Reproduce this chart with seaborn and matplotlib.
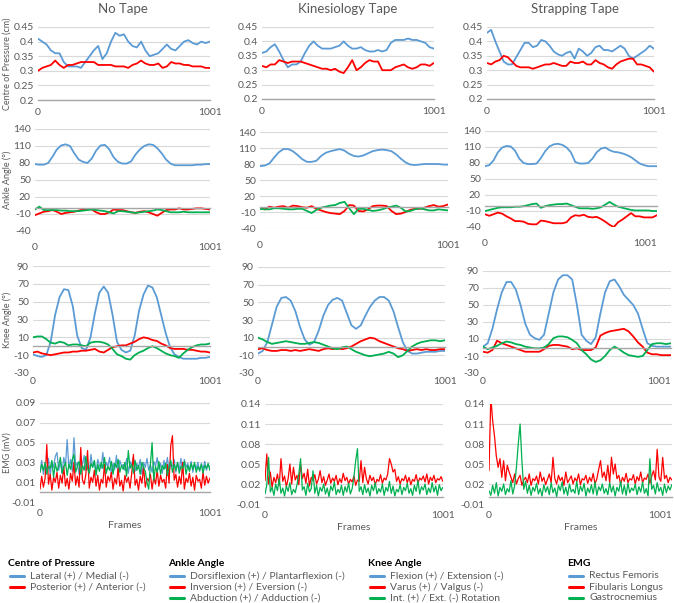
import numpy as np
import seaborn as sns
import matplotlib.pyplot as plt
from matplotlib.lines import Line2D

# ---- data ----
conditions = ['No Tape', 'Kinesiology Tape', 'Strapping Tape']
frames_25 = list(range(0, 1001, 25))

# centre of pressure (cm): lateral/medial (blue), posterior/anterior (red)
cop_lat = {
    'No Tape': [0.41, 0.40, 0.39, 0.37, 0.36, 0.36, 0.33, 0.315, 0.315, 0.315, 0.31, 0.33, 0.35, 0.37,
                0.385, 0.34, 0.36, 0.40, 0.43, 0.42, 0.425, 0.40, 0.385, 0.38, 0.40, 0.37, 0.35, 0.355,
                0.36, 0.375, 0.39, 0.375, 0.37, 0.385, 0.40, 0.405, 0.395, 0.39, 0.40, 0.395, 0.40],
    'Kinesiology Tape': [0.36, 0.365, 0.38, 0.39, 0.365, 0.335, 0.31, 0.32, 0.32, 0.33, 0.36, 0.385, 0.40,
                         0.385, 0.375, 0.375, 0.375, 0.38, 0.385, 0.40, 0.385, 0.375, 0.375, 0.38, 0.37,
                         0.365, 0.365, 0.37, 0.365, 0.37, 0.395, 0.405, 0.405, 0.405, 0.41, 0.405, 0.405,
                         0.40, 0.395, 0.38, 0.375],
    'Strapping Tape': [0.43, 0.44, 0.40, 0.365, 0.33, 0.32, 0.32, 0.345, 0.37, 0.395, 0.395, 0.38, 0.385,
                       0.405, 0.40, 0.385, 0.365, 0.355, 0.35, 0.36, 0.365, 0.34, 0.375, 0.365, 0.35, 0.36,
                       0.38, 0.385, 0.37, 0.37, 0.365, 0.375, 0.385, 0.375, 0.35, 0.34, 0.35, 0.36, 0.37,
                       0.385, 0.375],
}
cop_post = {
    'No Tape': [0.30, 0.31, 0.315, 0.32, 0.335, 0.32, 0.31, 0.32, 0.32, 0.325, 0.33, 0.33, 0.33, 0.33,
                0.32, 0.32, 0.32, 0.32, 0.315, 0.315, 0.315, 0.31, 0.32, 0.325, 0.335, 0.325, 0.32, 0.32,
                0.325, 0.31, 0.315, 0.33, 0.325, 0.325, 0.32, 0.32, 0.315, 0.315, 0.315, 0.31, 0.31],
    'Kinesiology Tape': [0.315, 0.31, 0.32, 0.32, 0.335, 0.33, 0.325, 0.33, 0.33, 0.33, 0.325, 0.32, 0.315,
                         0.31, 0.305, 0.305, 0.30, 0.305, 0.295, 0.29, 0.31, 0.335, 0.30, 0.31, 0.325,
                         0.335, 0.33, 0.33, 0.30, 0.30, 0.30, 0.31, 0.315, 0.32, 0.31, 0.305, 0.31, 0.32,
                         0.32, 0.315, 0.325],
    'Strapping Tape': [0.325, 0.32, 0.33, 0.335, 0.35, 0.345, 0.33, 0.315, 0.31, 0.31, 0.31, 0.305, 0.31,
                       0.315, 0.32, 0.32, 0.325, 0.32, 0.315, 0.315, 0.33, 0.325, 0.325, 0.33, 0.32, 0.32,
                       0.335, 0.325, 0.32, 0.31, 0.305, 0.32, 0.33, 0.335, 0.34, 0.34, 0.32, 0.32, 0.315,
                       0.31, 0.295],
}

# ankle angle (deg)
ankle_dorsi = {
    'No Tape': [78, 77, 77, 80, 91, 104, 111, 113, 110, 97, 86, 82, 80, 88, 102, 111, 112, 104, 90, 82, 79,
                79, 83, 95, 104, 110, 113, 112, 106, 97, 86, 79, 76, 76, 76, 76, 76, 77, 77, 78, 78],
    'Kinesiology Tape': [76, 77, 81, 92, 102, 108, 108, 104, 97, 89, 84, 84, 86, 95, 101, 104, 106, 108, 105,
                         99, 95, 94, 96, 100, 104, 106, 107, 106, 104, 98, 90, 83, 79, 78, 79, 80, 80, 80,
                         80, 79, 79],
    'Strapping Tape': [74, 76, 85, 100, 109, 112, 111, 103, 88, 80, 78, 78, 79, 89, 102, 111, 115, 116, 114,
                       109, 100, 82, 79, 79, 80, 88, 100, 107, 109, 104, 101, 100, 98, 95, 91, 85, 79, 76,
                       74, 74, 74],
}
ankle_inv = {
    'No Tape': [-12, -9, -6, -5, -3, -6, -10, -8, -7, -6, -4, -2, -1, -2, -7, -10, -10, -7, -2, -3, -3, -5,
                -7, -8, -6, -5, -7, -10, -13, -8, -3, -2, -2, 0, -2, -2, -1, 0, 0, -1, -2],
    'Kinesiology Tape': [-3, -5, 0, -2, 0, 1, -2, 2, 1, -1, -2, 1, -4, -7, -10, -12, -13, -14, -8, 3, 2, -8,
                         -9, -5, 1, 2, 2, 1, -8, -14, -13, -10, -6, -4, -4, -2, 1, 3, 0, 1, 4],
    'Strapping Tape': [-16, -19, -16, -13, -15, -20, -24, -29, -29, -30, -34, -35, -35, -28, -29, -31, -33,
                       -33, -33, -31, -22, -18, -19, -17, -21, -22, -21, -25, -30, -36, -40, -31, -26, -20,
                       -14, -20, -20, -22, -22, -22, -18],
}
ankle_abd = {
    'No Tape': [-2, 3, -3, -3, -3, -3, -4, -4, -5, -5, -5, -4, -3, -2, -3, -4, -5, -7, -9, -5, -5, -6, -7,
                -8, -7, -6, -5, -4, -2, -3, -5, -7, -7, -7, -6, -7, -7, -7, -7, -7, -7],
    'Kinesiology Tape': [-4, -5, -5, -3, -3, -4, -5, -5, -4, -4, -8, -12, -6, -2, 0, 2, 3, 7, 9, -3, -14,
                         -4, -4, -6, -8, -7, -5, -2, 0, 2, -2, -9, -8, -5, -3, -5, -7, -7, -5, -6, -7],
    'Strapping Tape': [-10, -8, -6, -4, -3, -3, -3, -2, -2, -1, 1, 3, 4, -4, -1, 1, 2, 3, 3, 4, 1, -2, -5,
                       -5, -5, -6, -5, -3, 2, 7, 2, -2, -4, -6, -8, -9, -9, -9, -9, -10, -10],
}

# knee angle (deg)
knee_flex = {
    'No Tape': [-9, -11, -12, -10, 5, 35, 55, 64, 63, 45, 12, -2, -4, 10, 37, 60, 67, 60, 35, 5, -4, -7,
                -5, 12, 40, 58, 68, 66, 55, 35, 15, -1, -9, -12, -14, -14, -14, -14, -13, -13, -12],
    'Kinesiology Tape': [-8, -5, 5, 25, 45, 55, 56, 52, 40, 22, 8, 2, 5, 18, 35, 47, 53, 55, 52, 38, 24, 20,
                         24, 35, 45, 52, 56, 56, 52, 40, 22, 5, -5, -8, -8, -7, -6, -6, -6, -5, -5],
    'Strapping Tape': [1, 5, 22, 45, 65, 77, 77, 68, 50, 28, 15, 11, 9, 15, 40, 65, 80, 85, 85, 80, 50, 15,
                       8, 4, 12, 40, 65, 78, 80, 72, 62, 56, 50, 40, 22, 5, 2, 1, 1, 1, 1],
}
knee_varus = {
    'No Tape': [-7, -6, -8, -9, -10, -9, -8, -7, -7, -6, -6, -5, -5, -4, -3, -6, -7, -4, -1, 0, 1, 1, 3,
                5, 8, 10, 9, 7, 6, 3, 1, -2, -3, -3, -3, -4, -4, -5, -6, -6, -7],
    'Kinesiology Tape': [-3, -2, -4, -5, -5, -4, -4, -5, -4, -5, -4, -3, -4, -5, -3, -2, -3, -2, -3, -2, 0,
                         3, 6, 8, 10, 9, 6, 4, 2, 0, -2, -3, -5, -4, -3, -4, -3, -4, -4, -3, -3],
    'Strapping Tape': [-5, -6, -3, 8, 5, 3, 1, -1, -3, -5, -5, -5, -5, -2, 2, 3, 3, 2, 1, -2, -1, -3, -3,
                       -3, 0, 14, 17, 19, 20, 21, 22, 19, 13, 6, 1, -6, -8, -8, -9, -9, -9],
}
knee_rot = {
    'No Tape': [10, 11, 11, 8, 4, 3, 5, 4, 1, 2, 2, 1, 0, 4, 5, 5, 4, 2, -3, -9, -11, -14, -15, -10, -7,
                -5, -2, 0, -2, -5, -8, -10, -11, -13, -8, -4, -1, 1, 2, 2, 3],
    'Kinesiology Tape': [10, 8, 5, 3, 4, 5, 6, 5, 4, 3, 3, 4, 5, 4, 2, 0, -2, -3, -1, 0, -3, -6, -8, -10,
                         -11, -10, -9, -8, -6, -8, -12, -10, -5, 0, 3, 5, 6, 7, 7, 6, 7],
    'Strapping Tape': [1, -2, 0, 2, 5, 7, 6, 4, 3, 1, 0, -1, -1, 0, 4, 11, 13, 13, 12, 9, 5, -3, -8, -14,
                       -17, -15, -10, -3, 1, -2, -6, -9, -10, -11, -10, -3, 4, 5, 5, 4, 5],
}

# EMG (x 0.001 mV), sampled every 10 frames
emg_rf = {
    'No Tape': [20, 32, 18, 28, 22, 34, 17, 30, 25, 36, 40, 22, 31, 19, 35, 27, 53, 24, 33, 21, 55, 26, 30,
                18, 34, 28, 37, 22, 29, 20, 38, 25, 31, 19, 33, 27, 24, 40, 21, 30, 26, 35, 18, 29, 23, 37,
                20, 32, 26, 28, 22, 34, 19, 31, 27, 35, 21, 29, 24, 33, 18, 30, 25, 34, 22, 28, 20, 31, 26,
                35, 23, 29, 19, 32, 24, 35, 21, 28, 26, 33, 20, 30, 23, 34, 19, 33, 25, 29, 22, 31, 20, 28,
                24, 30, 21, 29, 23, 31, 22, 28, 25],
}
emg_fl = {
    'No Tape': [3, 16, 5, 14, 48, 8, 18, 2, 15, 10, 20, 4, 17, 9, 26, 6, 14, 3, 19, 11, 30, 7, 16, 5, 45,
                12, 8, 18, 42, 4, 15, 10, 22, 6, 17, 2, 13, 9, 28, 5, 16, 11, 20, 3, 14, 8, 24, 6, 12, 1,
                17, 10, 15, 4, 19, 38, 7, 13, 2, 16, 9, 25, 5, 14, 11, 18, 3, 15, 8, 22, 6, 17, 10, 13, 4,
                28, 9, 47, 57, 12, 18, 5, 16, 8, 30, 3, 14, 10, 19, 6, 15, 2, 17, 11, 13, 4, 20, 7, 16, 9,
                14],
    'Kinesiology Tape': [25, 65, 20, 38, 15, 30, 22, 35, 18, 58, 24, 32, 16, 28, 50, 20, 45, 26, 33, 19, 50,
                         28, 36, 21, 42, 17, 30, 25, 34, 20, 27, 40, 22, 31, 18, 26, 35, 21, 29, 24, 33,
                         19, 28, 22, 36, 25, 30, 20, 27, 23, 32, 18, 26, 24, 55, 22, 45, 28, 20, 33, 25,
                         30, 19, 27, 24, 34, 21, 29, 26, 35, 58, 50, 38, 42, 24, 31, 20, 28, 25, 33, 22,
                         30, 19, 27, 24, 34, 21, 29, 26, 32, 23, 35, 20, 30, 25, 33, 22, 28, 26, 31, 24],
    'Strapping Tape': [40, 150, 115, 92, 62, 45, 58, 30, 55, 25, 48, 38, 30, 22, 35, 20, 28, 33, 18, 26, 30,
                       22, 35, 18, 28, 25, 32, 20, 38, 24, 30, 19, 27, 35, 22, 60, 28, 20, 33, 25, 30, 18,
                       38, 22, 27, 32, 20, 29, 24, 35, 19, 28, 26, 33, 21, 30, 24, 36, 20, 28, 42, 55, 30,
                       38, 25, 48, 22, 60, 35, 50, 28, 33, 20, 30, 24, 36, 22, 28, 26, 34, 20, 31, 25, 38,
                       22, 29, 27, 35, 21, 32, 40, 26, 72, 30, 24, 60, 28, 33, 22, 30, 26],
}
emg_gas = {
    'No Tape': [20, 28, 22, 30, 18, 26, 24, 32, 15, 29, 21, 27, 35, 19, 25, 30, 17, 28, 23, 33, 38, 20, 26,
                31, 18, 27, 22, 36, 24, 19, 29, 25, 32, 17, 28, 21, 30, 24, 35, 19, 26, 22, 31, 18, 29, 25,
                33, 20, 27, 23, 30, 16, 42, 24, 28, 19, 32, 22, 27, 18, 30, 25, 21, 10, 3, 28, 50, 12, 26,
                20, 31, 18, 27, 23, 29, 17, 25, 32, 20, 28, 22, 30, 19, 26, 24, 31, 18, 27, 21, 29, 23, 30,
                20, 26, 22, 28, 19, 27, 24, 29, 22],
    'Kinesiology Tape': [5, 18, 60, 8, 15, 3, 20, 10, 28, 6, 14, 2, 17, 9, 22, 4, 12, 7, 19, 35, 58, 11, 16,
                         3, 21, 8, 13, 40, 6, 18, 2, 15, 9, 20, 5, 14, 1, 17, 10, 23, 4, 12, 7, 18, 3, 16,
                         8, 21, 5, 13, 30, 55, 73, 9, 16, 4, 19, 7, 14, 2, 18, 10, 22, 5, 13, 8, 20, 3, 15,
                         9, 24, 6, 17, 2, 12, 8, 19, 4, 15, 10, 21, 6, 13, 3, 18, 9, 25, 5, 16, 11, 20, 4,
                         14, 7, 22, 8, 17, 3, 19, 10, 15],
    'Strapping Tape': [10, 3, 18, 6, 22, 2, 15, 9, 20, 4, 13, 8, 25, 5, 17, 45, 80, 110, 55, 12, 24, 6, 18,
                       3, 15, 9, 21, 5, 13, 2, 19, 8, 16, 4, 22, 7, 14, 1, 18, 10, 23, 5, 15, 3, 20, 8, 12,
                       6, 24, 4, 17, 9, 21, 2, 14, 7, 19, 5, 23, 3, 16, 10, 20, 6, 13, 4, 22, 8, 17, 2, 15,
                       9, 24, 5, 18, 3, 21, 7, 14, 10, 20, 4, 16, 8, 23, 6, 13, 2, 58, 12, 18, 5, 22, 9, 15,
                       3, 20, 7, 17, 11, 19],
}

cop_ticks = [0.2, 0.25, 0.3, 0.35, 0.4, 0.45]
cop_labels = ['0.2', '0.25', '0.3', '0.35', '0.4', '0.45']
ankle_ticks = [-40, -10, 20, 50, 80, 110, 140]
knee_ticks = [-30, -10, 10, 30, 50, 70, 90]
emg_ticks_nt = [-0.01, 0.01, 0.03, 0.05, 0.07, 0.09]
emg_ticks = [-0.01, 0.02, 0.05, 0.08, 0.11, 0.14]

BLUE, RED, GREEN = '#5B9BD5', '#FF0000', '#00B050'
TXT = '#595959'

sns.set_theme(style='white')
plt.rcParams['font.family'] = ['Lato', 'DejaVu Sans']

W, H = 674, 603
fig = plt.figure(figsize=(W / 100, H / 100), dpi=100)

# pixel boxes (x0, x1, ytop, ybottom) of each plot area
boxes = [
    [(38, 210, 27, 100), (262, 434, 27, 99), (487, 654, 27, 99)],
    [(35, 210, 129, 231), (260, 448, 132, 228), (485, 657, 131, 227)],
    [(33, 210, 266, 373), (258, 445, 267, 373), (483, 671, 271, 373)],
    [(40, 210, 403, 502), (265, 443, 404, 504), (489, 672, 404, 504)],
]
title_x = [123, 348, 575]
ylabels = ['Centre of Pressure (cm)', 'Ankle Angle (°)', 'Knee Angle (°)', 'EMG (mV)']


def make_ax(box):
    x0, x1, yt, yb = box
    return fig.add_axes([x0 / W, 1 - yb / H, (x1 - x0) / W, (yb - yt) / H])


def style(ax, ticks, labels, axis_y, label_off, last_ha='center'):
    ax.set_xlim(0, 1001)
    ax.set_ylim(ticks[0], ticks[-1])
    ax.set_yticks(ticks, labels)
    ax.yaxis.grid(True, color='#D9D9D9', linewidth=0.8)
    ax.set_axisbelow(True)
    for s in ['top', 'right', 'left']:
        ax.spines[s].set_visible(False)
    ax.spines['bottom'].set_position(('data', axis_y))
    ax.spines['bottom'].set_color('#A6A6A6')
    ax.spines['bottom'].set_linewidth(1.0)
    ax.set_xticks([0, 250, 500, 750, 1001])
    ax.tick_params(axis='x', direction='out', length=3, color='#A6A6A6', labelbottom=False)
    ax.tick_params(axis='y', length=0, labelsize=7.5, labelcolor=TXT, pad=3)
    ax.set_xlabel('')
    ax.set_ylabel('')
    for xv, txt, ha in [(0, '0', 'center'), (1001, '1001', last_ha)]:
        ax.annotate(txt, xy=(xv, 0), xycoords=('data', 'axes fraction'), xytext=(0, -label_off),
                    textcoords='offset points', ha=ha, va='top', fontsize=7.5, color=TXT)


for j, cond in enumerate(conditions):
    last_ha = 'right' if j == 2 else 'center'

    # centre of pressure
    ax = make_ax(boxes[0][j])
    sns.lineplot(x=frames_25, y=cop_lat[cond], ax=ax, color=BLUE, linewidth=1.3)
    sns.lineplot(x=frames_25, y=cop_post[cond], ax=ax, color=RED, linewidth=1.3)
    style(ax, cop_ticks, cop_labels, 0.2, 6)
    fig.text(title_x[j] / W, 1 - 9 / H, cond, fontsize=9.5, color=TXT, ha='center', va='center')

    # ankle
    ax = make_ax(boxes[1][j])
    sns.lineplot(x=frames_25, y=ankle_dorsi[cond], ax=ax, color=BLUE, linewidth=1.3)
    sns.lineplot(x=frames_25, y=ankle_inv[cond], ax=ax, color=RED, linewidth=1.3)
    sns.lineplot(x=frames_25, y=ankle_abd[cond], ax=ax, color=GREEN, linewidth=1.3)
    style(ax, ankle_ticks, [str(t) for t in ankle_ticks], 0, 9, last_ha)

    # knee
    ax = make_ax(boxes[2][j])
    sns.lineplot(x=frames_25, y=knee_flex[cond], ax=ax, color=BLUE, linewidth=1.3)
    sns.lineplot(x=frames_25, y=knee_varus[cond], ax=ax, color=RED, linewidth=1.3)
    sns.lineplot(x=frames_25, y=knee_rot[cond], ax=ax, color=GREEN, linewidth=1.3)
    style(ax, knee_ticks, [str(t) for t in knee_ticks], 0, 3, last_ha)

    # EMG
    ax = make_ax(boxes[3][j])
    for d, col in [(emg_rf, BLUE), (emg_fl, RED), (emg_gas, GREEN)]:
        if cond in d:
            vals = np.array(d[cond]) / 1000
            fr = np.linspace(0, 1000, len(vals))
            sns.lineplot(x=fr, y=vals, ax=ax, color=col, linewidth=0.9)
    tks = emg_ticks_nt if cond == 'No Tape' else emg_ticks
    style(ax, tks, [f'{t:g}' for t in tks], 0, 5, last_ha)
    ax.text(0.5, -0.19, 'Frames', transform=ax.transAxes, ha='center', va='top', fontsize=7.5, color=TXT)

    if j == 0:
        for i in range(4):
            x0, x1, yt, yb = boxes[i][0]
            fig.text(7 / W, 1 - (yt + yb) / 2 / H, ylabels[i], rotation=90, ha='center', va='center',
                     fontsize=6.5, color=TXT)

# legend blocks
legend_groups = [
    ('Centre of Pressure', ['Lateral (+) / Medial (-)', 'Posterior (+) / Anterior (-)']),
    ('Ankle Angle', ['Dorsiflexion (+) / Plantarflexion (-)', 'Inversion (+) / Eversion (-)',
                     'Abduction (+) / Adduction (-)']),
    ('Knee Angle', ['Flexion (+) / Extension (-)', 'Varus (+) / Valgus (-)', 'Int. (+) / Ext. (-) Rotation']),
    ('EMG', ['Rectus Femoris', 'Fibularis Longus', 'Gastrocnemius']),
]
leg_x = [8, 168, 368, 567]
cols = [BLUE, RED, GREEN]
for gx, (head, items) in zip(leg_x, legend_groups):
    fig.text(gx / W, 1 - 563 / H, head, fontsize=7.5, fontweight='bold', color='black', va='center')
    for k, item in enumerate(items):
        yy = 1 - (576 + 11 * k) / H
        fig.add_artist(Line2D([(gx + 2) / W, (gx + 16) / W], [yy, yy], color=cols[k], linewidth=2.2,
                              transform=fig.transFigure))
        fig.text((gx + 22) / W, yy, item, fontsize=7.5, color=TXT, va='center')

fig.savefig('out.png', dpi=100)
